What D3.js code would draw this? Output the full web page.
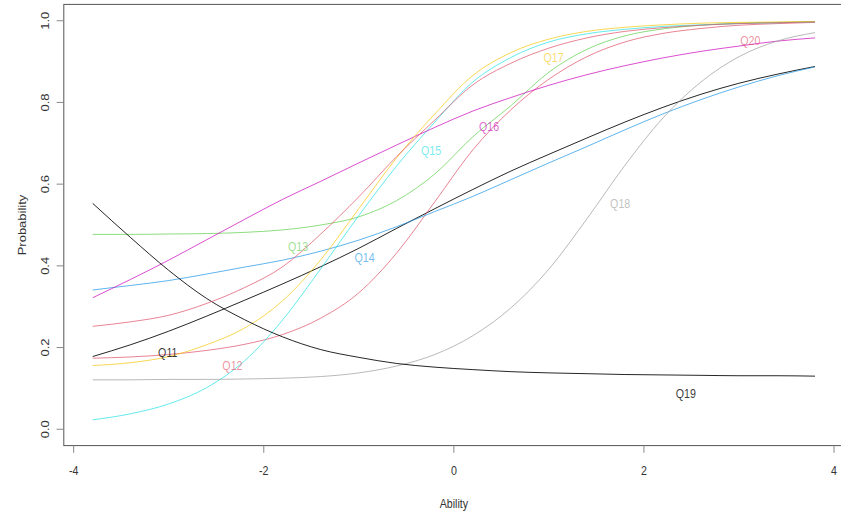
<!DOCTYPE html>
<html>
<head>
<meta charset="utf-8">
<script src="https://cdn.jsdelivr.net/npm/d3@7"></script>
<style>
  html, body { margin: 0; padding: 0; background: #ffffff; }
  svg { display: block; }
  text { font-family: "Liberation Sans", Arial, Helvetica, sans-serif; }
</style>
</head>
<body>
<svg id="chart" width="841" height="516"></svg>
<script>
// ---- data ----
const theta = [-3.8, -3.4, -3.0, -2.6, -2.2, -1.8, -1.4, -1.0, -0.6, -0.2, 0.2, 0.6, 1.0, 1.4, 1.8, 2.2, 2.6, 3.0, 3.4, 3.8];

const items = ["Q11", "Q12", "Q13", "Q14", "Q15", "Q16", "Q17", "Q18", "Q19", "Q20"];

const q11 = [0.178, 0.207, 0.240, 0.277, 0.316, 0.356, 0.398, 0.443, 0.492, 0.540, 0.587, 0.632, 0.673, 0.713, 0.752, 0.788, 0.820, 0.847, 0.869, 0.888];
const q12 = [0.174, 0.177, 0.183, 0.193, 0.208, 0.232, 0.272, 0.334, 0.432, 0.557, 0.684, 0.782, 0.857, 0.912, 0.948, 0.969, 0.981, 0.989, 0.993, 0.996];
const q13 = [0.477, 0.477, 0.478, 0.479, 0.482, 0.488, 0.500, 0.520, 0.560, 0.625, 0.716, 0.792, 0.874, 0.930, 0.963, 0.980, 0.989, 0.994, 0.996, 0.998];
const q14 = [0.341, 0.352, 0.364, 0.380, 0.397, 0.414, 0.436, 0.463, 0.496, 0.533, 0.570, 0.611, 0.652, 0.692, 0.733, 0.772, 0.807, 0.838, 0.865, 0.887];
const q15 = [0.023, 0.038, 0.062, 0.102, 0.168, 0.268, 0.393, 0.523, 0.645, 0.752, 0.850, 0.910, 0.948, 0.968, 0.979, 0.986, 0.990, 0.993, 0.995, 0.997];
const q16 = [0.322, 0.367, 0.414, 0.464, 0.514, 0.563, 0.607, 0.652, 0.696, 0.739, 0.779, 0.812, 0.842, 0.868, 0.890, 0.909, 0.925, 0.938, 0.950, 0.958];
const q17 = [0.156, 0.163, 0.178, 0.207, 0.248, 0.315, 0.415, 0.540, 0.665, 0.772, 0.866, 0.922, 0.955, 0.974, 0.984, 0.990, 0.994, 0.996, 0.997, 0.998];
const q18 = [0.121, 0.121, 0.122, 0.122, 0.123, 0.125, 0.129, 0.138, 0.155, 0.183, 0.229, 0.297, 0.392, 0.515, 0.646, 0.762, 0.850, 0.912, 0.950, 0.971];
const q19 = [0.553, 0.469, 0.389, 0.320, 0.268, 0.226, 0.195, 0.176, 0.161, 0.152, 0.146, 0.141, 0.138, 0.136, 0.134, 0.133, 0.132, 0.131, 0.131, 0.130];
const q20 = [0.252, 0.263, 0.279, 0.308, 0.347, 0.398, 0.478, 0.569, 0.668, 0.757, 0.843, 0.896, 0.933, 0.958, 0.974, 0.983, 0.989, 0.993, 0.995, 0.997];

const seriesValues = [q11, q12, q13, q14, q15, q16, q17, q18, q19, q20];

// curve label positions (ability, probability)
const labelTheta = [-3.01, -2.33, -1.64, -0.94, -0.24, 0.37, 1.05, 1.75, 2.44, 3.12];
const labelProb  = [0.188, 0.157, 0.449, 0.422, 0.684, 0.742, 0.910, 0.553, 0.088, 0.951];

const xTicks = [-4, -2, 0, 2, 4];
const yTicks = [0.0, 0.2, 0.4, 0.6, 0.8, 1.0];
const xTitle = "Ability";
const yTitle = "Probability";

// R default palette, recycled
const palette = ["#000000", "#DF536B", "#61D04F", "#2297E6", "#28E2E5", "#CD0BBC", "#F5C710", "#9E9E9E"];

// ---- drawing ----
const svg = d3.select("#chart");

const x = d3.scaleLinear().domain([-4.104, 4.104]).range([63.8, 843.9]);
const y = d3.scaleLinear().domain([-0.04, 1.04]).range([445.6, 4.4]);

const fontSize = 13;
const squeeze = 0.82;
const lineOpacity = i => (i % palette.length === 0 ? 0.85 : 0.72);

// plot box
svg.append("rect")
  .attr("x", x.range()[0]).attr("y", y.range()[1])
  .attr("width", x.range()[1] - x.range()[0])
  .attr("height", y.range()[0] - y.range()[1])
  .attr("fill", "none").attr("stroke", "#555").attr("stroke-width", 1);

// curves
const line = d3.line()
  .x(d => x(d[0]))
  .y(d => y(d[1]))
  .curve(d3.curveMonotoneX);

seriesValues.forEach((vals, i) => {
  svg.append("path")
    .datum(theta.map((t, j) => [t, vals[j]]))
    .attr("fill", "none")
    .attr("stroke", palette[i % palette.length])
    .attr("stroke-opacity", lineOpacity(i))
    .attr("stroke-width", 1)
    .attr("d", line);
});

// curve labels
items.forEach((name, i) => {
  const px = x(labelTheta[i]), py = y(labelProb[i]);
  svg.append("text")
    .attr("transform", `translate(${px},${py}) scale(${squeeze},1)`)
    .attr("text-anchor", "middle")
    .attr("dy", "0.36em")
    .attr("font-size", fontSize)
    .attr("fill", palette[i % palette.length])
    .attr("fill-opacity", i % palette.length === 0 ? 0.8 : 0.65)
    .text(name);
});

// x axis
const xAxisG = svg.append("g")
  .attr("transform", `translate(0,${y.range()[0]})`);
xAxisG.selectAll("line.tick").data(xTicks).enter().append("line")
  .attr("x1", d => x(d)).attr("x2", d => x(d))
  .attr("y1", 0).attr("y2", 7.2)
  .attr("stroke", "#888").attr("stroke-width", 1);
xAxisG.selectAll("text.tick").data(xTicks).enter().append("text")
  .attr("transform", d => `translate(${x(d)},24.5) scale(${squeeze},1)`)
  .attr("text-anchor", "middle")
  .attr("dy", "0.36em")
  .attr("font-size", fontSize)
  .attr("fill", "#333")
  .text(d => d3.format("d")(d).replace("−", "-"));

// y axis
const yAxisG = svg.append("g")
  .attr("transform", `translate(${x.range()[0]},0)`);
yAxisG.selectAll("line.tick").data(yTicks).enter().append("line")
  .attr("x1", 0).attr("x2", -7.2)
  .attr("y1", d => y(d)).attr("y2", d => y(d))
  .attr("stroke", "#888").attr("stroke-width", 1);
yAxisG.selectAll("text.tick").data(yTicks).enter().append("text")
  .attr("transform", d => `translate(-19,${y(d)}) scale(${squeeze},1) rotate(-90)`)
  .attr("text-anchor", "middle")
  .attr("dy", "0.36em")
  .attr("font-size", fontSize)
  .attr("fill", "#333")
  .text(d => d3.format(".1f")(d));

// axis titles
svg.append("text")
  .attr("transform", `translate(${x(0)},503) scale(${squeeze},1)`)
  .attr("text-anchor", "middle")
  .attr("dy", "0.36em")
  .attr("font-size", fontSize)
  .attr("fill", "#333")
  .text(xTitle);

svg.append("text")
  .attr("transform", `translate(22,${(y.range()[0] + y.range()[1]) / 2}) scale(${squeeze},1) rotate(-90)`)
  .attr("text-anchor", "middle")
  .attr("dy", "0.36em")
  .attr("font-size", fontSize)
  .attr("fill", "#333")
  .text(yTitle);
</script>
</body>
</html>
